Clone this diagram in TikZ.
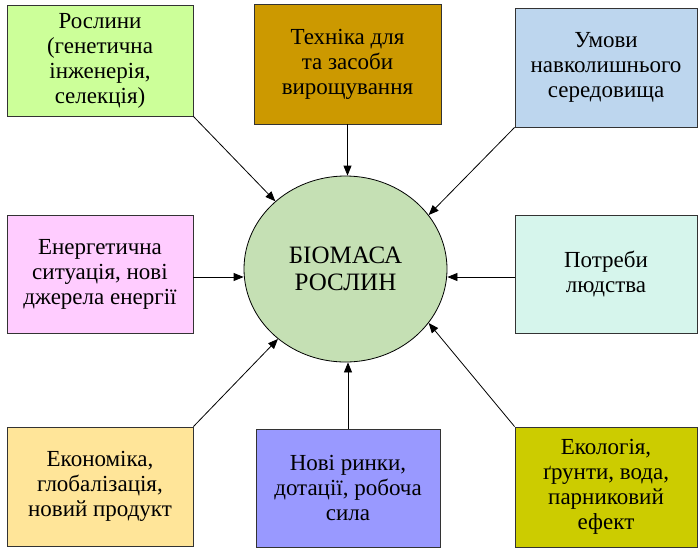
\documentclass[tikz,border=0pt]{standalone}
\usepackage{fontspec}
\setmainfont{Liberation Serif}
\usetikzlibrary{arrows.meta,shapes.geometric}
\definecolor{plantGreen}{RGB}{204,255,153}
\definecolor{techOchre}{RGB}{204,153,0}
\definecolor{envBlue}{RGB}{189,214,238}
\definecolor{energyPink}{RGB}{255,204,255}
\definecolor{needsAqua}{RGB}{214,245,236}
\definecolor{econSand}{RGB}{255,229,153}
\definecolor{marketViolet}{RGB}{153,153,255}
\definecolor{ecoOlive}{RGB}{204,204,0}
\definecolor{biomassGreen}{RGB}{197,224,180}

\begin{document}
\begin{tikzpicture}[x=1pt,y=-1pt,
  factorBox/.style={draw=black!80,line width=0.8pt,align=center,inner sep=4pt,
    font=\fontsize{23}{25}\selectfont},
  biomassNode/.style={ellipse,draw=black,line width=0.8pt,fill=biomassGreen,
    minimum width=203pt,minimum height=186pt,align=center,
    font=\fontsize{25}{27}\selectfont},
  influence/.style={line width=0.8pt,-{Triangle[length=10pt,width=8pt]}}]
\useasboundingbox (0,0) rectangle (698,547);
\node[biomassNode] (biomass) at (345.5,269) {БІОМАСА\\РОСЛИН};
% factor boxes
\node[factorBox,fill=plantGreen,minimum width=186pt,minimum height=111pt] (plants) at (100,60.5) {Рослини\\(генетична\\інженерія,\\селекція)};
\node[factorBox,fill=techOchre,minimum width=187pt,minimum height=120pt] (tech) at (347.5,64) {Техніка для\\та засоби\\вирощування};
\node[factorBox,fill=envBlue,minimum width=182pt,minimum height=119pt] (environment) at (606,67.5) {Умови\\навколишнього\\середовища};
\node[factorBox,fill=energyPink,minimum width=186pt,minimum height=118pt] (energy) at (100,274) {Енергетична\\ситуація, нові\\джерела енергії};
\node[factorBox,fill=needsAqua,minimum width=182pt,minimum height=118pt] (needs) at (606,274) {Потреби\\людства};
\node[factorBox,fill=econSand,minimum width=186pt,minimum height=119pt] (economy) at (100,486.5) {Економіка,\\глобалізація,\\новий продукт};
\node[factorBox,fill=marketViolet,minimum width=184pt,minimum height=118pt] (markets) at (348,488) {Нові ринки,\\дотації, робоча\\сила};
\node[factorBox,fill=ecoOlive,minimum width=182pt,minimum height=120pt] (ecology) at (606,487) {Екологія,\\ґрунти, вода,\\парниковий\\ефект};
% arrows into the centre
\draw[influence] (plants.south east) -- (biomass.136);
\draw[influence] (tech.south) -- (tech.south |- biomass.north);
\draw[influence] (environment.south west) -- (biomass.33);
\draw[influence] (energy.east |- 0,277) -- (biomass.west |- 0,277);
\draw[influence] (needs.west |- 0,277) -- (biomass.east |- 0,277);
\draw[influence] (economy.north east) -- (biomass.226);
\draw[influence] (markets.north) -- (markets.north |- biomass.south);
\draw[influence] (ecology.north west) -- (biomass.327);
\end{tikzpicture}
\end{document}
